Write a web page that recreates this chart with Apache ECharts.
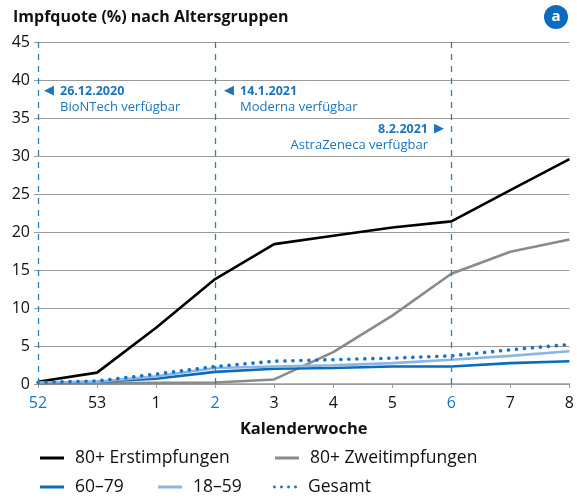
<!DOCTYPE html>
<html lang="de">
<head>
<meta charset="UTF-8">
<title>Impfquote nach Altersgruppen</title>
<script src="https://cdn.jsdelivr.net/npm/echarts@6/dist/echarts.min.js"></script>
<style>
  html, body { margin: 0; padding: 0; background: #fff; }
  #chart { width: 577px; height: 498px; }
</style>
</head>
<body>
<div id="chart"></div>
<script>
// Kalenderwochen
var weeks = ['52', '53', '1', '2', '3', '4', '5', '6', '7', '8'];
var blueWeeks = ['52', '2', '6'];

// Impfquote in %
var erst80 = [0.3, 1.5, 7.4, 13.8, 18.4, 19.5, 20.6, 21.4, 25.5, 29.6];
var zweit80 = [0.0, 0.1, 0.15, 0.2, 0.6, 4.2, 9.0, 14.5, 17.4, 19.0];
var age6079 = [0.15, 0.3, 0.7, 1.6, 2.0, 2.1, 2.3, 2.3, 2.75, 3.0];
var age1859 = [0.2, 0.3, 1.0, 2.1, 2.3, 2.45, 2.75, 3.2, 3.7, 4.3];
var gesamt = [0.2, 0.4, 1.3, 2.3, 3.0, 3.2, 3.4, 3.7, 4.5, 5.2];

var yTicks = [0, 5, 10, 15, 20, 25, 30, 35, 40, 45];

var FONT = '"Open Sans", "Noto Sans", sans-serif';
var BLUE = '#1b74bd';

var chart = echarts.init(document.getElementById('chart'));

function line(name, data, color, extra) {
  var s = {
    name: name,
    type: 'line',
    data: data,
    symbol: 'none',
    lineStyle: { color: color, width: 2.6 },
    itemStyle: { color: color },
    z: 3
  };
  return Object.assign(s, extra || {});
}

// legend icons: a short bar, and a row of dots
var barIcon = 'path://M0,0H24V3H0Z';
var dotIcon = 'path://' + [1.75, 10.25, 18.75, 27.25].map(function (c) {
  return 'M' + (c - 1.75) + ',1.75a1.75,1.75 0 1,0 3.5,0a1.75,1.75 0 1,0 -3.5,0';
}).join('');

function legendItem(name, icon, left, top) {
  return {
    data: [{ name: name, icon: icon }],
    left: left, top: top, padding: 0,
    itemWidth: 24, itemHeight: 14,
    textStyle: { fontSize: 17.5, color: '#111', fontFamily: FONT, padding: [0, 0, 0, 6] }
  };
}

var option = {
  backgroundColor: '#fff',
  animation: false,
  textStyle: { fontFamily: FONT },
  title: {
    text: 'Impfquote (%) nach Altersgruppen',
    left: 8,
    top: 4,
    textStyle: { fontFamily: FONT, fontWeight: 'bold', fontSize: 16, color: '#111' }
  },
  grid: { left: 38, right: 5, top: 42, bottom: 114 },
  legend: [
    legendItem('80+ Erstimpfungen', barIcon, 40, 449),
    legendItem('80+ Zweitimpfungen', barIcon, 275, 449),
    legendItem('60\u201379', barIcon, 40, 478),
    legendItem('18\u201359', barIcon, 158, 478),
    legendItem('Gesamt', dotIcon, 273, 478)
  ],
  xAxis: {
    type: 'category',
    data: weeks,
    boundaryGap: false,
    name: 'Kalenderwoche',
    nameLocation: 'middle',
    nameGap: 37,
    nameTextStyle: { fontWeight: 'bold', fontSize: 16.5, color: '#111', fontFamily: FONT },
    axisLine: { lineStyle: { color: '#9a9a9a', width: 1.5 } },
    axisTick: { show: true, length: 4, interval: 0, lineStyle: { color: '#9a9a9a' } },
    axisLabel: {
      interval: 0,
      hideOverlap: false,
      margin: 11,
      fontSize: 16,
      formatter: function (v) {
        return blueWeeks.indexOf(v) >= 0 ? '{b|' + v + '}' : '{k|' + v + '}';
      },
      rich: {
        b: { color: BLUE, fontSize: 16, fontFamily: FONT },
        k: { color: '#111', fontSize: 16, fontFamily: FONT }
      }
    },
    splitLine: { show: false }
  },
  yAxis: {
    type: 'value',
    min: 0,
    max: 45,
    interval: 5,
    axisLine: { show: false },
    axisTick: { show: true, length: 4, lineStyle: { color: '#9a9a9a' } },
    axisLabel: {
      margin: 8, fontSize: 16, color: '#111', fontFamily: FONT,
      formatter: function (v) { return yTicks.indexOf(v) >= 0 ? String(v) : ''; }
    },
    splitLine: { lineStyle: { color: '#9a9a9a', width: 1.2 } }
  },
  series: [
    line('80+ Erstimpfungen', erst80, '#000000', {
      markLine: {
        silent: true,
        symbol: 'none',
        label: { show: false },
        lineStyle: { color: '#2a80c6', type: [6, 6], width: 1.3 },
        data: [{ xAxis: '52' }, { xAxis: '2' }, { xAxis: '6' }]
      }
    }),
    line('80+ Zweitimpfungen', zweit80, '#8a8a8a'),
    line('60\u201379', age6079, '#0b6cbb'),
    line('18\u201359', age1859, '#8fb4e0'),
    line('Gesamt', gesamt, '#1774c4', {
      lineStyle: { color: '#1774c4', width: 3.6, type: [0.1, 7.9], cap: 'round' },
      z: 4
    })
  ],
  graphic: [
    // Badge "a"
    { type: 'circle', shape: { cx: 556, cy: 17, r: 12 }, style: { fill: '#0b6dbf' } },
    { type: 'text', x: 556, y: 17, style: { text: 'a', fill: '#fff', font: 'bold 15px ' + FONT, align: 'center', verticalAlign: 'middle' } },
    // BioNTech
    { type: 'text', x: 44, y: 91, style: { text: '\u25C0', fill: BLUE, font: '13px "DejaVu Sans"', verticalAlign: 'middle' } },
    { type: 'text', x: 60, y: 91, style: { text: '26.12.2020', fill: BLUE, font: 'bold 12.5px ' + FONT, verticalAlign: 'middle' } },
    { type: 'text', x: 60, y: 107, style: { text: 'BioNTech verfügbar', fill: BLUE, font: '13px ' + FONT, verticalAlign: 'middle' } },
    // Moderna
    { type: 'text', x: 224, y: 91, style: { text: '\u25C0', fill: BLUE, font: '13px "DejaVu Sans"', verticalAlign: 'middle' } },
    { type: 'text', x: 240, y: 91, style: { text: '14.1.2021', fill: BLUE, font: 'bold 12.5px ' + FONT, verticalAlign: 'middle' } },
    { type: 'text', x: 240, y: 107, style: { text: 'Moderna verfügbar', fill: BLUE, font: '13px ' + FONT, verticalAlign: 'middle' } },
    // AstraZeneca
    { type: 'text', x: 428, y: 129, style: { text: '8.2.2021', fill: BLUE, font: 'bold 12.5px ' + FONT, align: 'right', verticalAlign: 'middle' } },
    { type: 'text', x: 434, y: 129, style: { text: '\u25B6', fill: BLUE, font: '13px "DejaVu Sans"', verticalAlign: 'middle' } },
    { type: 'text', x: 428, y: 145, style: { text: 'AstraZeneca verfügbar', fill: BLUE, font: '13px ' + FONT, align: 'right', verticalAlign: 'middle' } }
  ]
};

chart.setOption(option);
</script>
</body>
</html>
